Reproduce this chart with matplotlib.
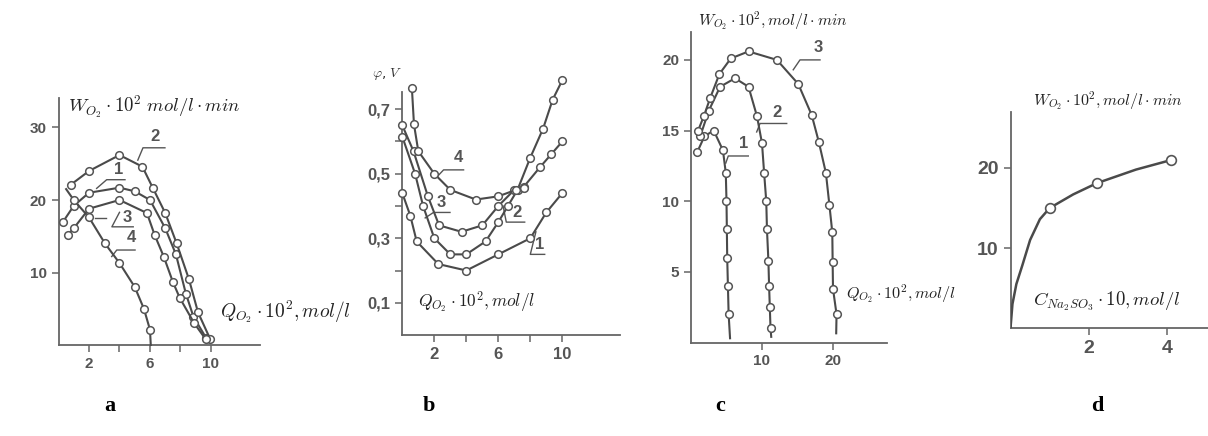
"""Oxygen absorption rate panels a-d"""
import numpy as np
import matplotlib
matplotlib.use('Agg')
import matplotlib.pyplot as plt

plt.rcParams['mathtext.fontset'] = 'cm'

# ---- panel a: W_O2 vs Q_O2 ----
a1_x = [0.3, 1.0, 2.0, 4.0, 5.0, 6.0, 7.0, 7.7, 8.35, 8.85, 9.7]
a1_y = [17.0, 19.2, 21.0, 21.7, 21.2, 20.0, 16.1, 12.5, 7.1, 3.9, 0.9]
a2_x = [0.8, 2.0, 4.0, 5.5, 6.2, 7.0, 7.75, 8.55, 9.15, 9.95]
a2_y = [22.1, 24.0, 26.2, 24.6, 21.6, 18.2, 14.0, 9.1, 4.5, 0.8]
a3_x = [0.6, 1.0, 2.0, 4.0, 5.8, 6.3, 6.9, 7.5, 7.95, 8.9, 9.65]
a3_y = [15.2, 16.1, 18.8, 20.0, 18.2, 15.2, 12.2, 8.7, 6.5, 3.0, 0.8]
a4_x = [0.5, 1.0, 2.0, 3.05, 4.0, 5.0, 5.6, 6.0, 6.05]
a4_y = [21.5, 20.0, 17.6, 14.0, 11.3, 8.0, 5.0, 2.1, 0.0]
a_xticks = [2, 4, 6, 8, 10]
a_xticklabels = ['2', '', '6', '', '10']
a_yticks = [10, 20, 30]

# ---- panel b: potential vs Q_O2 ----
b1_x = [0, 0.5, 0.9, 2.25, 4.0, 6.0, 8.0, 9.0, 10.0]
b1_y = [0.44, 0.37, 0.29, 0.22, 0.20, 0.25, 0.30, 0.38, 0.44]
b2_x = [0, 0.8, 1.3, 2.0, 3.0, 4.0, 5.2, 6.0, 6.6, 7.2, 8.0, 8.8, 9.4, 10.0]
b2_y = [0.615, 0.50, 0.40, 0.30, 0.25, 0.25, 0.29, 0.35, 0.40, 0.45, 0.55, 0.64, 0.73, 0.79]
b3_x = [0, 0.7, 1.6, 2.3, 3.7, 5.0, 6.0, 7.0, 7.6, 8.6, 9.3, 10.0]
b3_y = [0.65, 0.57, 0.43, 0.34, 0.32, 0.34, 0.40, 0.45, 0.46, 0.52, 0.56, 0.60]
b4_x = [0.6, 0.73, 1.0, 2.0, 3.0, 4.6, 6.0, 7.1, 7.6]
b4_y = [0.765, 0.653, 0.57, 0.50, 0.45, 0.42, 0.43, 0.45, 0.455]
b_xticks = [2, 4, 6, 8, 10]
b_xticklabels = ['2', '', '6', '', '10']
b_yticks = [0.1, 0.2, 0.3, 0.4, 0.5, 0.6, 0.7]
b_yticklabels = ['0,1', '', '0,3', '', '0,5', '', '0,7']

# ---- panel c: W_O2 vs Q_O2 (wide range) ----
c1_x = [0.9, 1.9, 3.2, 4.5, 4.9, 5.0, 5.05, 5.1, 5.2, 5.3, 5.5]
c1_y = [13.5, 14.6, 15.0, 13.6, 12.0, 10.0, 8.0, 6.0, 4.0, 2.0, 0.3]
c2_x = [1.3, 2.5, 4.1, 6.2, 8.1, 9.3, 10.0, 10.3, 10.6, 10.7, 10.9, 11.0, 11.1, 11.2, 11.3]
c2_y = [14.6, 16.4, 18.1, 18.7, 18.1, 16.0, 14.1, 12.0, 10.0, 8.0, 5.8, 4.0, 2.5, 1.0, 0.4]
c3_x = [1.0, 1.8, 2.7, 4.0, 5.6, 8.1, 12.1, 15.1, 17.0, 18.0, 19.0, 19.5, 19.9, 19.95, 20.0, 20.5, 20.45]
c3_y = [15.0, 16.0, 17.3, 19.0, 20.1, 20.6, 20.0, 18.3, 16.1, 14.2, 12.0, 9.7, 7.8, 5.7, 3.8, 2.0, 0.65]
c_xticks = [10, 20]
c_yticks = [5, 10, 15, 20]

# ---- panel d: W_O2 vs sulfite concentration ----
d_line_x = [0, 0.05, 0.15, 0.3, 0.5, 0.75, 1.0, 1.6, 2.2, 3.2, 4.1]
d_line_y = [0, 3.0, 5.5, 7.8, 11.0, 13.6, 15.0, 16.7, 18.1, 19.8, 21.0]
d_pts_x = [1.0, 2.2, 4.1]
d_pts_y = [15.0, 18.1, 21.0]
d_xticks = [2, 4]
d_yticks = [10, 20]

LINE = '#4a4a4a'
TICK = '#555555'
W, H = 1208, 436


def make_axes(fig, x0, y0, sx, sy, xmax, ymax):
    """axes placed by pixel origin and pixels per data unit"""
    ax = fig.add_axes([x0 / W, (H - y0) / H, sx * xmax / W, sy * ymax / H])
    ax.set_xlim(0, xmax)
    ax.set_ylim(0, ymax)
    for s in ['top', 'right']:
        ax.spines[s].set_visible(False)
    for s in ['left', 'bottom']:
        ax.spines[s].set_color('#666666')
        ax.spines[s].set_linewidth(1.3)
    ax.tick_params(direction='out', length=5, width=1.1, colors='#666666',
                   labelcolor=TICK)
    ax.patch.set_alpha(0)
    return ax


def curve(ax, x, y, skip_last=False):
    n = len(x)
    me = list(range(n - 1)) if skip_last else None
    ax.plot(x, y, '-', color=LINE, lw=1.5, marker='o', ms=5.5, mfc='white',
            mec='#555555', mew=1.1, markevery=me, clip_on=False, zorder=3)


def tag(ax, text, pos, line_pts, fs=12):
    ax.plot([p[0] for p in line_pts], [p[1] for p in line_pts], color='#555555',
            lw=1.0, clip_on=False)
    ax.text(pos[0], pos[1], text, fontsize=fs, fontweight='bold', color=TICK,
            ha='center', va='center', family='Liberation Sans')


def tick_font(ax, size):
    for lab in ax.get_xticklabels() + ax.get_yticklabels():
        lab.set_fontweight('bold')
        lab.set_fontsize(size)
        lab.set_family('Liberation Sans')


fig = plt.figure(figsize=(W / 100, H / 100), dpi=100)

# panel a
ax = make_axes(fig, 58.5, 345, 15.25, 7.25, 13.2, 34)
for x, y in [(a1_x, a1_y), (a2_x, a2_y), (a3_x, a3_y)]:
    curve(ax, x, y)
curve(ax, a4_x, a4_y, skip_last=True)
ax.lines[-1].set_markevery(list(range(1, len(a4_x) - 1)))
ax.set_xticks(a_xticks)
ax.set_xticklabels(a_xticklabels)
ax.set_yticks(a_yticks)
tick_font(ax, 11)
tag(ax, '2', (6.33, 28.8), [(5.2, 25.5), (5.54, 27.2), (6.98, 27.2)])
tag(ax, '1', (3.92, 24.2), [(2.5, 21.6), (3.16, 22.8), (4.36, 22.8)])
tag(ax, '3', (4.5, 17.6), [(2.4, 17.5), (3.1, 17.5)])
ax.plot([4.9, 3.5, 4.0], [16.3, 16.3, 18.3], color='#555555', lw=1.0)
tag(ax, '4', (4.8, 14.8), [(3.49, 12.2), (3.82, 13.1), (5.02, 13.1)])
ax.text(0.62, 32.8, r'$W_{O_2}\cdot10^2\ mol/l\cdot min$', fontsize=13.5,
        ha='left', va='center', color='#222222')
ax.text(10.6, 4.55, r'$Q_{O_2}\cdot10^2, mol/l$', fontsize=14,
        ha='left', va='center', color='#222222', clip_on=False)

# panel b
ax = make_axes(fig, 402.3, 335, 16, 322.5, 13.6, 0.754)
for x, y in [(b1_x, b1_y), (b2_x, b2_y), (b3_x, b3_y), (b4_x, b4_y)]:
    curve(ax, x, y)
ax.set_xticks(b_xticks)
ax.set_xticklabels(b_xticklabels)
ax.set_yticks(b_yticks)
ax.set_yticklabels(b_yticklabels)
tick_font(ax, 12)
tag(ax, '4', (3.5, 0.55), [(2.16, 0.49), (2.58, 0.512), (3.83, 0.512)])
tag(ax, '3', (2.46, 0.41), [(1.43, 0.363), (1.95, 0.38), (2.98, 0.38)])
tag(ax, '2', (7.15, 0.38), [(6.3, 0.40), (6.5, 0.35), (7.65, 0.35)])
tag(ax, '1', (8.6, 0.28), [(8.35, 0.32), (8.0, 0.25), (8.9, 0.25)])
ax.text(-1.9, 0.81, r'$\varphi$, $V$', fontsize=10, ha='left', va='center',
        color='#333333', clip_on=False)
ax.text(0.98, 0.10, r'$Q_{O_2}\cdot10^2, mol/l$', fontsize=12.5,
        ha='left', va='center', color='#222222')

# panel c
ax = make_axes(fig, 691, 342.5, 7.1, 14.13, 27.6, 22)
for x, y in [(c1_x, c1_y), (c2_x, c2_y), (c3_x, c3_y)]:
    curve(ax, x, y, skip_last=True)
ax.set_xticks(c_xticks)
ax.set_yticks(c_yticks)
tick_font(ax, 11)
tag(ax, '1', (7.37, 14.1), [(4.9, 12.7), (5.25, 13.2), (8.07, 13.2)])
tag(ax, '2', (12.07, 16.3), [(9.25, 14.9), (9.72, 15.5), (13.48, 15.5)])
tag(ax, '3', (17.9, 20.9), [(14.4, 19.3), (15.35, 20.0), (18.17, 20.0)])
ax.text(1.0, 22.7, r'$W_{O_2}\cdot10^2, mol/l\cdot min$', fontsize=11.5,
        ha='left', va='center', color='#222222', clip_on=False)
ax.text(21.9, 3.43, r'$Q_{O_2}\cdot10^2, mol/l$', fontsize=11.7,
        ha='left', va='center', color='#222222', clip_on=False)

# panel d
ax = make_axes(fig, 1010.5, 328, 39.2, 8, 5.05, 27)
ax.plot(d_line_x, d_line_y, '-', color=LINE, lw=1.8, zorder=3)
ax.plot(d_pts_x, d_pts_y, 'o', ms=7, mfc='white', mec='#555555', mew=1.2,
        zorder=4, clip_on=False)
ax.set_xticks(d_xticks)
ax.set_yticks(d_yticks)
tick_font(ax, 14)
ax.text(0.57, 28.3, r'$W_{O_2}\cdot10^2, mol/l\cdot min$', fontsize=11.5,
        ha='left', va='center', color='#222222', clip_on=False)
ax.text(0.57, 3.3, r'$C_{Na_2SO_3}\cdot10, mol/l$', fontsize=13.5,
        ha='left', va='center', color='#222222')

# panel letters
for letter, xp in zip(['a', 'b', 'c', 'd'], [110, 429, 720, 1097]):
    fig.text(xp / W, (H - 406) / H, letter, fontsize=16, fontweight='bold',
             family='Liberation Serif', ha='center', va='center')

fig.savefig('out.png', dpi=100)
